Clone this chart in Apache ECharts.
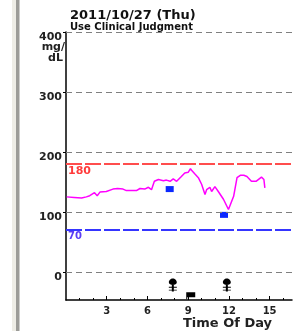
<!DOCTYPE html>
<html lang="en">
<head>
    <meta charset="UTF-8">
    <title>Glucose Day</title>
    <script src="https://cdn.jsdelivr.net/npm/echarts@6/dist/echarts.min.js"></script>
    <style>
        html, body { margin: 0; padding: 0; background: #fff; }
        #main { width: 303px; height: 331px; }
    </style>
</head>
<body>
<div id="main"></div>
<script>
    // sensor trace (hours, mg/dL)
    var traceTimes = [0.05, 0.6, 1.15, 1.5, 1.75, 2.1, 2.3, 2.5, 2.97, 3.46, 3.8, 4.2, 4.45, 5.19, 5.45, 5.56, 5.8, 6.07, 6.3,
        6.51, 6.81, 7.18, 7.4, 7.67, 7.9, 8.15, 8.5, 8.75, 8.85, 9.0, 9.17, 9.3, 9.5, 9.75, 9.99, 10.24, 10.36, 10.6,
        10.73, 10.97, 11.22, 11.6, 11.97, 12.1, 12.35, 12.6, 12.84, 13.1, 13.33, 13.66, 14.0, 14.4, 14.58, 14.65];
    var traceValues = [125, 124, 123, 125, 127, 132, 127, 133, 134, 138, 139, 138, 135.5, 135.5, 139, 140, 138, 141, 137,
        151, 154, 152, 153, 151, 155, 151, 159, 165, 162, 166, 172, 168, 163, 157, 146, 129, 137, 141,
        134, 142, 134, 121, 104, 107, 126, 157, 161, 161, 159, 151, 151, 158, 154, 140];
    // meter readings
    var meterTimes = [7.64, 11.64];
    var meterValues = [138, 95];
    // event markers
    var insulinTimes = [7.87, 11.85];
    var flagTimes = [9.19];
    var highLimit = 180;
    var lowLimit = 70;
    var yTicks = [0, 100, 200, 300, 400];
    var hourTicks = [1, 2, 3, 4, 5, 6, 7, 8, 9, 10, 11, 12, 13, 14, 15, 16];
    var hourLabels = [3, 6, 9, 12, 15];

    var FONT = 'DejaVu Sans';
    var chart = echarts.init(document.getElementById('main'));

    function pairs(xs, ys) {
        return xs.map(function (x, i) { return [x, ys[i]]; });
    }

    var option = {
        animation: false,
        grid: {left: 66, right: 11, top: 32, bottom: 31, outerBoundsMode: 'none'},
        graphic: [
            {type: 'rect', left: 12, top: 0, shape: {width: 4, height: 331}, style: {fill: '#eeede6'}},
            {type: 'rect', left: 16, top: 0, shape: {width: 3.5, height: 331}, style: {fill: '#9c9c98'}},
            {type: 'text', left: 70, top: 9, style: {text: '2011/10/27 (Thu)', font: 'bold 13px ' + FONT, fill: '#111'}},
            {type: 'text', left: 70, top: 22, style: {text: 'Use Clinical Judgment', font: 'bold 10px ' + FONT, fill: '#111'}},
            {type: 'text', right: 238, top: 42, style: {text: 'mg/', font: 'bold 11px ' + FONT, fill: '#222'}},
            {type: 'text', right: 240, top: 53, style: {text: 'dL', font: 'bold 11px ' + FONT, fill: '#222'}},
            {type: 'text', left: 183, top: 317, style: {text: 'Time Of Day', font: 'bold 13px ' + FONT, fill: '#222'}}
        ],
        xAxis: [
            {
                type: 'value', min: 0, max: 16.65,
                axisLine: {show: true, onZero: false, lineStyle: {color: '#000', width: 1.5}},
                axisTick: {show: true, inside: true, length: 2, customValues: hourTicks, lineStyle: {color: '#000'}},
                axisLabel: {customValues: hourLabels, margin: 6, color: '#222', fontFamily: FONT, fontWeight: 'bold', fontSize: 10},
                splitLine: {show: false}
            },
            {
                type: 'value', min: 0, max: 16.65, position: 'bottom',
                axisLine: {show: false, onZero: false},
                axisTick: {show: true, inside: true, length: 4, customValues: hourLabels, lineStyle: {color: '#000'}},
                axisLabel: {show: false},
                splitLine: {show: false}
            }
        ],
        yAxis: {
            type: 'value', min: -47, max: 400,
            axisLine: {show: true, onZero: false, lineStyle: {color: '#000', width: 1.5}},
            axisTick: {show: true, length: 3, customValues: yTicks, lineStyle: {color: '#000'}},
            axisLabel: {customValues: yTicks, margin: 4, verticalAlign: 'top', color: '#222',
                fontFamily: FONT, fontWeight: 'bold', fontSize: 11},
            splitLine: {show: false}
        },
        series: [
            {
                type: 'line', data: [], silent: true,
                markLine: {
                    silent: true, symbol: 'none', animation: false,
                    data: yTicks.map(function (v) {
                        return {yAxis: v, lineStyle: {color: '#808080', width: 1, type: [6, 4]}, label: {show: false}};
                    }).concat([
                        {yAxis: highLimit, lineStyle: {color: '#ff4d4d', width: 2, type: [16, 3]},
                            label: {show: true, position: 'insideStartBottom', distance: [2, 2], formatter: String(highLimit),
                                color: '#ff3b3b', fontFamily: FONT, fontWeight: 'bold', fontSize: 11}},
                        {yAxis: lowLimit, lineStyle: {color: '#3535ff', width: 2, type: [16, 3]},
                            label: {show: true, position: 'insideStartBottom', distance: [2, 2], formatter: String(lowLimit),
                                color: '#5a3cf5', fontFamily: FONT, fontWeight: 'bold', fontSize: 10}}
                    ])
                }
            },
            {
                type: 'line', data: pairs(traceTimes, traceValues), showSymbol: false, smooth: false,
                lineStyle: {color: '#ff00ff', width: 1.5}, z: 3
            },
            {
                type: 'scatter', data: pairs(meterTimes, meterValues), symbol: 'rect', symbolSize: [8, 6],
                itemStyle: {color: '#0a28ff', opacity: 1}, z: 4
            },
            {
                type: 'scatter', data: insulinTimes.map(function (t) { return [t, -22]; }),
                symbol: 'path://M5,0 C8,0 9,3 9,4 C9,6 7,7 5,7 C3,7 1,6 1,4 C1,3 2,0 5,0 Z M4,7 L6,7 L6,14 L4,14 Z M1,9 L9,9 L9,10 L1,10 Z M1,12 L9,12 L9,13 L1,13 Z',
                symbolSize: [8, 13], itemStyle: {color: '#000', opacity: 1}, z: 4
            },
            {
                type: 'scatter', data: flagTimes.map(function (t) { return [t, -40]; }),
                symbol: 'path://M0,0 L1,0 L1,7 L0,7 Z M1,0 L9,0 L9,5 L1,5 Z',
                symbolSize: [9, 7], itemStyle: {color: '#000', opacity: 1}, z: 4
            }
        ]
    };
    chart.setOption(option);
</script>
</body>
</html>
